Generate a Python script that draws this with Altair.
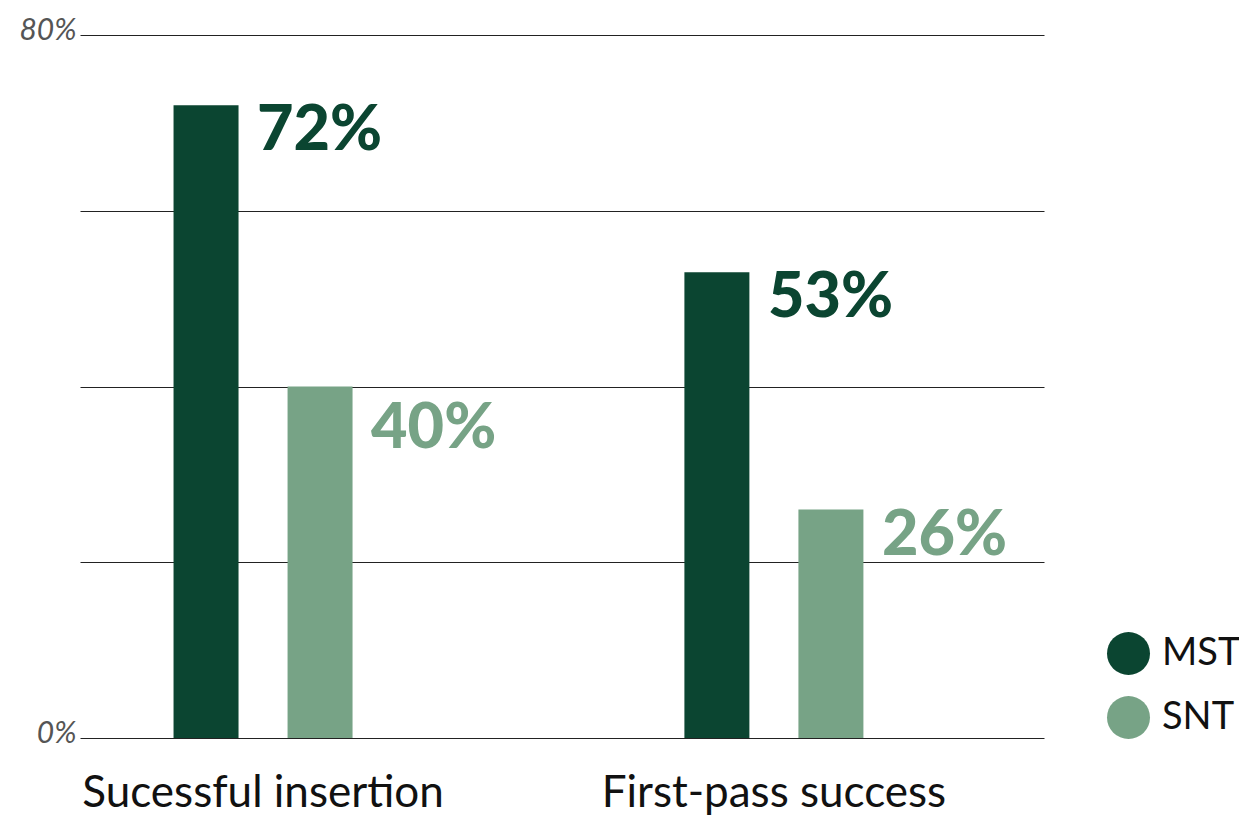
import altair as alt
import pandas as pd

categories = ["Sucessful insertion", "First-pass success"]
groups = ["MST", "SNT"]
mst = [72, 53]
snt = [40, 26]
colors = ["#0b4531", "#77a386"]

rows = []
for c, m, s in zip(categories, mst, snt):
    rows.append({"category": c, "group": "MST", "value": m, "label": f"{m}%"})
    rows.append({"category": c, "group": "SNT", "value": s, "label": f"{s}%"})
df = pd.DataFrame(rows)

x = alt.X(
    "category:N", sort=categories,
    scale=alt.Scale(paddingInner=0.413, paddingOuter=0.15, align=0.216),
    axis=alt.Axis(title=None, labelAngle=0, labelFontSize=44, labelFont="Lato",
                  labelColor="#111111", labelPadding=68, labelBaseline="alphabetic",
                  labelLimit=0, ticks=False, domain=False, grid=False),
)
xo = alt.XOffset("group:N", sort=groups,
                 scale=alt.Scale(paddingInner=0.43, paddingOuter=0.53))
y = alt.Y(
    "value:Q", scale=alt.Scale(domain=[0, 80]),
    axis=alt.Axis(values=[0, 20, 40, 60, 80], title=None,
                  labelExpr="datum.value == 0 || datum.value == 80 ? datum.value + '%' : ''",
                  labelFontSize=30, labelFont="Lato", labelFontStyle="italic",
                  labelColor="#555555", labelPadding=4, labelOffset=-5,
                  ticks=False, domain=False, grid=True, gridColor="#222222", gridWidth=1),
)
color_scale = alt.Scale(domain=groups, range=colors)

base = alt.Chart(df)

bars = base.mark_bar().encode(
    x=x, xOffset=xo, y=y,
    color=alt.Color("group:N", sort=groups, scale=color_scale,
                    legend=alt.Legend(title=None, orient="none", legendX=1027, legendY=597,
                                      symbolType="circle", symbolSize=1849,
                                      symbolStrokeWidth=0, labelFontSize=38,
                                      labelFont="Lato", labelColor="#111111",
                                      rowPadding=21, labelOffset=12, padding=0)),
)

is_low = "datum.group == 'SNT' && datum.category == 'Sucessful insertion'"

def value_text(dy, flt):
    return base.transform_filter(flt).mark_text(
        align="left", baseline="alphabetic", dx=51, dy=dy,
        fontSize=63, font="Lato", fontWeight=900,
    ).encode(
        x=x, xOffset=xo, y=y, text="label:N",
        color=alt.Color("group:N", sort=groups, scale=color_scale, legend=None),
    )

text_main = value_text(45, "!(" + is_low + ")")
text_low = value_text(61, is_low)

chart = (bars + text_main + text_low).properties(
    width=964, height=703,
    background="white",
    autosize=alt.AutoSizeParams(type="none"),
    padding={"left": 72, "top": 27, "right": 195, "bottom": 79},
).configure_view(stroke=None)

chart.save("out.html", embed_options={"renderer": "svg", "actions": False})
